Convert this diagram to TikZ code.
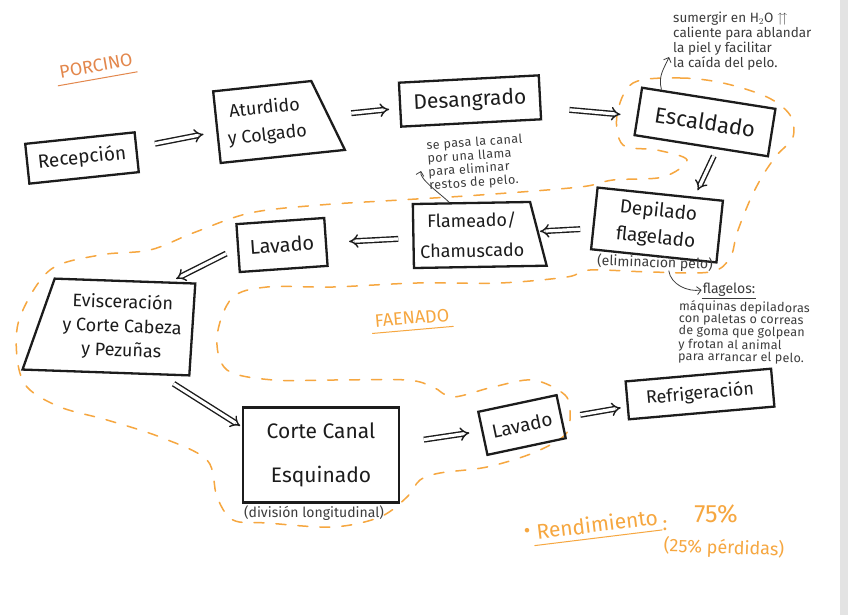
\documentclass[tikz,border=0pt]{standalone}
\usepackage{amsmath,amssymb}
\usepackage{fontspec}
\setmainfont{Fira Sans}
\usepackage{xcolor}
\usetikzlibrary{arrows.meta,shapes.geometric,calc}
\definecolor{tinta}{HTML}{1C1C1C}
\definecolor{lapiz}{HTML}{3C3C3C}
\definecolor{naranja}{HTML}{F6A740}
\definecolor{naranjaosc}{HTML}{E3874C}
\newcommand{\fs}[2]{\fontsize{#1}{#2}\selectfont}

\begin{document}
\begin{tikzpicture}[
    x=1pt, y=-1pt,
    caja/.style={draw=tinta, line width=2.3pt, align=center, inner sep=3pt,
                 text=tinta},
    trap/.style={caja, trapezium, trapezium stretches=true},
    flecha/.style={draw=tinta, line width=1.4pt, double=white,
                   double distance=3.2pt, -{Implies}},
    nota/.style={align=left, text=lapiz, inner sep=0pt,
                 font=\fs{12.5}{13.4}\addfontfeature{LetterSpace=4}},
    nflecha/.style={draw=lapiz, line width=.8pt, -{Straight Barb[length=4pt]}},
    sub/.style={text=lapiz, inner sep=0pt, font=\fs{14}{15}},
    borde/.style={naranja, line width=1.5pt, dash pattern=on 10pt off 12pt,
                  line cap=round},
  ]
  \useasboundingbox (0,0) rectangle (848,615);
  \fill[white] (0,0) rectangle (848,615);
  \fill[gray!22] (840,0) rectangle (848,615);

  % zona de faenado
  \draw[borde] plot[smooth cycle, tension=0.55] coordinates {
    (633,83) (680,78) (723,83) (767,97) (790,115) (793,137) (777,155)
    (763,175) (750,200) (737,233) (730,258) (710,272) (650,272) (590,270)
    (567,277) (500,283) (417,283) (333,287) (267,287) (232,298) (217,337)
    (227,370) (273,380) (333,380) (407,380) (433,387) (453,397) (493,387)
    (533,380) (565,395) (570,415) (565,435) (533,453) (487,467) (440,473)
    (420,480) (407,497) (380,517) (333,527) (267,523) (233,520) (217,497)
    (207,460) (160,437) (107,420) (60,407) (27,387) (17,357) (20,317)
    (50,270) (100,255) (150,250) (193,233) (250,213) (320,205) (400,200)
    (480,195) (580,187) (613,180) (663,177) (687,160) (657,150) (623,145)
    (617,115)};

  \node[text=naranjaosc, rotate=10, font=\fs{18}{20}] (porc) at (96,66) {PORCINO};
  \draw[naranjaosc, line width=1pt] ([yshift=-3pt]porc.south west) -- ([yshift=-3pt]porc.south east);
  \node[text=naranja, rotate=5, font=\fs{18}{20}] (faen) at (412,318) {FAENADO};
  \draw[naranja, line width=1pt] ([yshift=-2pt]faen.south west) -- ([yshift=-2pt]faen.south east);

  % etapas
  \node[caja, rotate=6, minimum width=110, minimum height=40, font=\fs{19}{22}] (recep) at (82,158) {Recepción};
  \node[trap, rotate=6, trapezium left angle=90, trapezium right angle=66,
        minimum width=125, minimum height=72, font=\fs{18}{27}] (aturd) at (266,122) {Aturdido\\y Colgado};
  \node[caja, rotate=3, minimum width=140, minimum height=44, font=\fs{21}{24}] (desang) at (470,101) {Desangrado};
  \node[caja, rotate=-9, minimum width=135, minimum height=48, font=\fs{22}{24}] (escal) at (705,122) {Escaldado};
  \node[caja, rotate=-6, minimum width=126, minimum height=62, font=\fs{19}{27}] (depil) at (657,225) {Depilado\\flagelado};
  \node[trap, rotate=1, trapezium left angle=90, trapezium right angle=74,
        minimum width=133, minimum height=64, font=\fs{18}{30}] (flame) at (472,235) {Flameado/\\Chamuscado};
  \node[caja, rotate=4, minimum width=88, minimum height=48, font=\fs{20}{22}] (lav1) at (282,245) {Lavado};
  \node[trap, rotate=-2, trapezium left angle=70, trapezium right angle=92,
        minimum width=170, minimum height=92, font=\fs{18}{24}] (evisc) at (122,327) {Evisceración\\y Corte Cabeza\\y Pezuñas};
  \node[caja, minimum width=156, minimum height=95, font=\fs{21}{44}] (corte) at (321,455) {Corte Canal\\Esquinado};
  \node[caja, rotate=12, minimum width=80, minimum height=44, font=\fs{19}{22}] (lav2) at (522,425) {Lavado};
  \node[caja, rotate=5, minimum width=146, minimum height=38, font=\fs{18}{22}] (refri) at (700,394) {Refrigeración};

  % aclaraciones
  \node[sub, rotate=-2] (elim) at (655,263) {(eliminación pelo)};
  \node[sub] (divis) at (314,513) {(división longitudinal)};
  \node[nota, anchor=north west, font=\fs{13.5}{15}] (notaE) at (673,12)
       {sumergir en H$_2$O $\upuparrows$\\caliente para ablandar\\la piel y facilitar\\la caída del pelo.};
  \node[nota, anchor=north west, rotate=4] (notaF) at (426,140)
       {se pasa la canal\\por una llama\\para eliminar\\restos de pelo.};
  \node[text=lapiz, inner sep=1pt, font=\fs{14}{15}] (flag) at (729,290) {flagelos:};
  \draw[lapiz, line width=.7pt] (flag.south west) -- (flag.south east);
  \node[nota, anchor=north west, rotate=-1, font=\fs{12.5}{12.2}\addfontfeature{LetterSpace=2}] (notaG) at (679,300)
       {máquinas depiladoras\\con paletas o correas\\de goma que golpean\\y frotan al animal\\para arrancar el pelo.};

  \coordinate (pE) at (669,57);
  \coordinate (pF) at (421,171);
  \draw[nflecha] ($(escal.north west)!0.15!(escal.north east)$) .. controls +(-4,-14) and +(-4,10) .. (pE);
  \draw[nflecha] ([xshift=11pt]flame.north west) .. controls +(-8,-8) and +(-2,8) .. (pF);
  \draw[nflecha] ([xshift=14pt]elim.south) .. controls +(2,14) and +(-14,2) .. (flag.west);

  % flujo
  \draw[flecha, shorten <=18pt, shorten >=13pt] (recep) -- (aturd);
  \draw[flecha, shorten <=22pt, shorten >=10pt] (aturd) -- (desang);
  \draw[flecha, shorten <=28pt, shorten >=16pt] (desang) -- (escal);
  \draw[flecha, shorten <=10pt, shorten >=3pt] ([xshift=17pt]escal.south) -- ([xshift=36pt]depil.north);
  \draw[flecha, shorten <=12pt, shorten >=1pt] (depil) -- (flame);
  \draw[flecha, shorten <=14pt, shorten >=22pt] (flame) -- (lav1);
  \draw[flecha, shorten <=12pt, shorten >=6pt] (lav1.west) -- (evisc.north east);
  \draw[flecha, shorten <=18pt, shorten >=2pt] ([xshift=38pt]evisc.south) -- ([yshift=28pt]corte.west);
  \draw[flecha, shorten <=24pt, shorten >=12pt] (corte) -- (lav2);
  \draw[flecha, shorten <=18pt, shorten >=6pt] (lav2) -- (refri);

  % rendimiento
  \node[text=naranja, font=\fs{20}{22}] (punto) at (527,533) {\textbullet};
  \node[text=naranja, rotate=7, font=\fs{21}{24}] (rend) at (597,524) {Rendimiento};
  \draw[naranja, line width=1pt] ([yshift=-2pt]rend.south west) -- ([yshift=-2pt]rend.south east);
  \node[text=naranja, font=\fs{20}{22}] (dosp) at (665,526) {:};
  \node[text=naranja, font=\fs{25}{26}] (porcen) at (716,514) {75\%};
  \node[text=naranja, rotate=-2, font=\fs{18}{20}] (perd) at (724,548) {(25\% pérdidas)};
\end{tikzpicture}
\end{document}
